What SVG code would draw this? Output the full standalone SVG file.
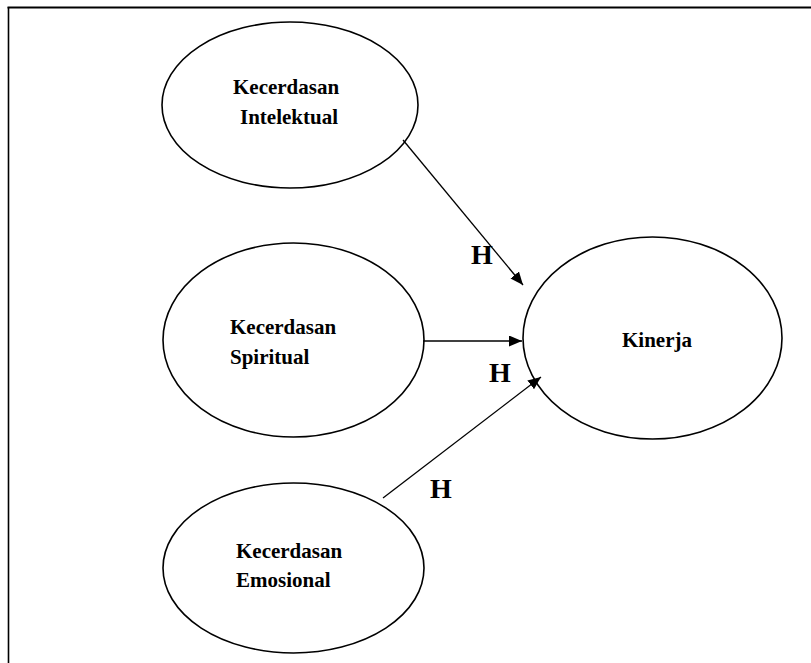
<svg xmlns="http://www.w3.org/2000/svg" width="811" height="663" viewBox="0 0 811 663">
<style>
.el{fill:none;stroke:#000;stroke-width:1.6}
.t{font-family:"Liberation Serif","Times New Roman",serif;font-weight:bold;font-size:21px;fill:#000}
.h{font-family:"Liberation Serif","Times New Roman",serif;font-weight:bold;font-size:28px;fill:#000}
.c{stroke:#000;stroke-width:1.3;fill:none}
</style>
<defs>
<marker id="ah" markerWidth="14" markerHeight="12" refX="13" refY="5.5" orient="auto" markerUnits="userSpaceOnUse">
<path d="M0,0 L13,5.5 L0,11 Z" fill="#000"/>
</marker>
</defs>
<rect width="811" height="663" fill="#fff"/>
<g id="frame">
<line x1="7.5" y1="7.5" x2="811" y2="7.5" stroke="#000" stroke-width="2"/>
<line x1="8.5" y1="7" x2="8.5" y2="663" stroke="#000" stroke-width="1.6"/>
</g>
<g id="intelektual">
<ellipse class="el" cx="290" cy="105" rx="128" ry="83"/>
<text class="t" x="233" y="94">Kecerdasan</text>
<text class="t" x="240" y="124">Intelektual</text>
</g>
<g id="spiritual">
<ellipse class="el" cx="293.5" cy="340" rx="130.5" ry="97"/>
<text class="t" x="230" y="334">Kecerdasan</text>
<text class="t" x="230" y="364">Spiritual</text>
</g>
<g id="emosional">
<ellipse class="el" cx="293.5" cy="568" rx="130.5" ry="85"/>
<text class="t" x="236" y="558">Kecerdasan</text>
<text class="t" x="236" y="587">Emosional</text>
</g>
<g id="kinerja">
<ellipse class="el" cx="652.5" cy="338" rx="129.5" ry="101"/>
<text class="t" x="622" y="347">Kinerja</text>
</g>
<g id="connectors">
<line class="c" x1="403" y1="140" x2="523" y2="285" marker-end="url(#ah)"/>
<line class="c" x1="423" y1="341" x2="522" y2="341" marker-end="url(#ah)"/>
<line class="c" x1="383" y1="498" x2="541" y2="377" marker-end="url(#ah)"/>
<text class="h" x="471" y="264">H</text>
<text class="h" x="489" y="382">H</text>
<text class="h" x="430" y="498">H</text>
</g>
</svg>
